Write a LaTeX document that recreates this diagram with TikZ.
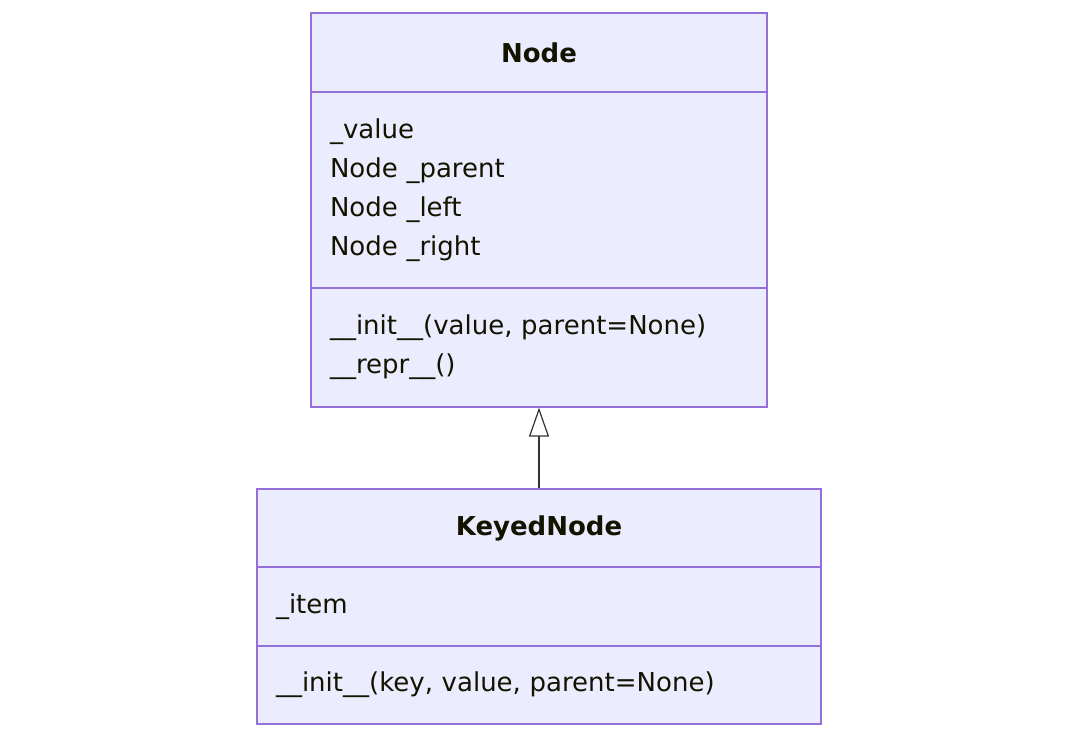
\documentclass[tikz,border=0pt]{standalone}
\usepackage{fontspec}
\setmainfont{DejaVu Sans}
\usetikzlibrary{arrows.meta,positioning}
\definecolor{classfill}{HTML}{ECECFF}
\definecolor{classline}{HTML}{9370DB}
\definecolor{classtext}{HTML}{131300}
\definecolor{linkline}{HTML}{333333}
\tikzset{
    classhead/.style={draw=classline, fill=classfill, line width=0.6pt, align=center, font=\fontsize{13}{19.5}\selectfont\bfseries, text=classtext, inner sep=0pt},
    classbody/.style={draw=classline, fill=classfill, line width=0.6pt, align=left, font=\fontsize{13}{19.5}\selectfont, text=classtext, inner xsep=9.5pt, inner ysep=0pt},
    inheritarrow/.style={-{Triangle[open, length=14.5pt, width=10pt, fill=white]}, draw=linkline, line width=0.6pt}
}
\begin{document}
\begin{tikzpicture}[x=0.5pt, y=-0.5pt]
        \useasboundingbox (0,0) rectangle (1078,738);
        % base class
        \node[classhead, minimum width=228pt, minimum height=39.5pt] (nodehead) at (539,52.5) {Node};
        \node[classbody, minimum height=98pt, text width=209pt] (nodeattr) at (539,190) {\_value\\Node \_parent\\Node \_left\\Node \_right};
        \node[classbody, minimum height=59.5pt, text width=209pt] (nodemeth) at (539,347.5) {\_\_init\_\_(value, parent=None)\\\_\_repr\_\_()};
        % derived class
        \node[classhead, minimum width=282pt, minimum height=39pt] (keyhead) at (539,528) {KeyedNode};
        \node[classbody, minimum height=39.5pt, text width=263pt] (keyattr) at (539,606.5) {\_item};
        \node[classbody, minimum height=39pt, text width=263pt] (keymeth) at (539,685) {\_\_init\_\_(key, value, parent=None)};
        \draw[inheritarrow] (keyhead.north) -- (nodemeth.south);
    \end{tikzpicture}
\end{document}
